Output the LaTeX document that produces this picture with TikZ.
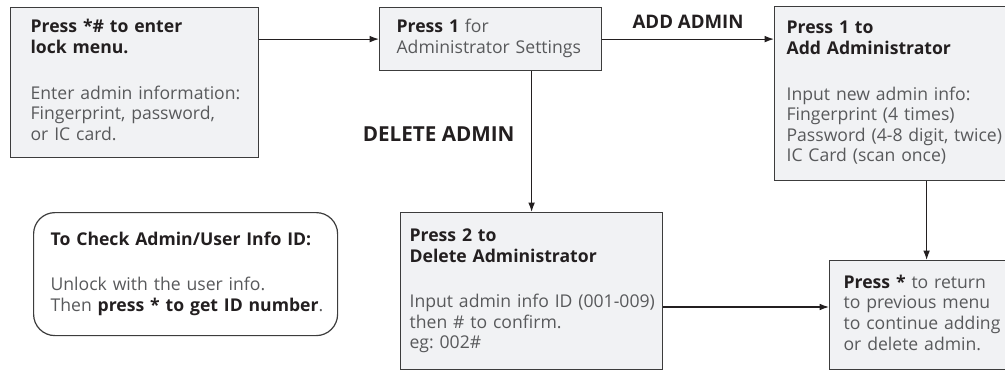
\documentclass[tikz,border=0pt]{standalone}
\usepackage{fontspec}
\setmainfont{Open Sans}
\usetikzlibrary{arrows.meta}
\definecolor{boxfill}{HTML}{F1F2F4}
\definecolor{boxline}{HTML}{3C3C3C}
\definecolor{txtgray}{HTML}{58595B}
\definecolor{txtdark}{HTML}{231F20}
\newcommand{\hd}[1]{{\bfseries\color{txtdark}#1}}
\newcommand{\lines}[1]{\begin{tabular}{@{}l@{}}#1\end{tabular}}
\frenchspacing

\begin{document}
\begin{tikzpicture}[x=0.75pt,y=-0.75pt,
  menubox/.style={draw=boxline,fill=boxfill,line width=0.9pt,anchor=north west,align=left,
    inner ysep=0pt,font=\fontsize{13.2}{15.4}\selectfont,text=txtgray},
  flow/.style={draw=txtdark,line width=0.9pt,-{Latex[length=7pt,width=5pt]}},
  lbl/.style={font=\fontsize{14}{16}\selectfont\bfseries,text=txtdark}]
  \useasboundingbox (0,0) rectangle (1005,371);
  % menu boxes
  \node[menubox,inner xsep=15pt,text width=156pt,minimum height=112.5pt] (lock) at (10,7)
    {\lines{\hd{Press *\# to enter}\\\hd{lock menu.}\\[19pt]Enter admin information:\\Fingerprint, password,\\or IC card.}};
  \node[menubox,inner xsep=12.75pt,text width=141pt,minimum height=47.25pt] (ctl) at (379,7)
    {\lines{\hd{Press 1} for\\Administrator Settings}};
  \node[menubox,inner xsep=9pt,text width=210pt,minimum height=130.5pt] (add) at (774,6)
    {\lines{\hd{Press 1 to}\\\hd{Add Administrator}\\[19pt]Input new admin info:\\Fingerprint (4 times)\\Password (4-8 digit, twice)\\IC Card (scan once)}};
  \node[menubox,inner xsep=6.75pt,text width=183pt,minimum height=117.75pt] (del) at (400,212)
    {\lines{\hd{Press 2 to}\\\hd{Delete Administrator}\\[19pt]Input admin info ID (001-009)\\then \# to confirm.\\eg: 002\#}};
  \node[menubox,inner xsep=10.5pt,text width=124.5pt,minimum height=81.75pt] (rtn) at (829,260)
    {\lines{\hd{Press *} to return\\to previous menu\\to continue adding\\or delete admin.}};
  \node[menubox,fill=white,rounded corners=16pt,inner xsep=12.75pt,text width=202.5pt,minimum height=92.25pt] (chk) at (33,212)
    {\lines{\hd{To Check Admin/User Info ID:}\\[19pt]Unlock with the user info.\\Then \hd{press * to get ID number}.}};
  % connectors
  \draw[flow] (lock.east |- ctl.west) -- (ctl.west);
  \draw[flow] (ctl.east) -- node[lbl,above=4pt] (lbladd) {ADD ADMIN} (ctl.east -| add.west);
  \draw[flow] (ctl.south -| del.north) -- node[lbl,font=\fontsize{15.5}{17}\selectfont\bfseries,left=9pt,pos=0.45] (lbldel) {DELETE ADMIN} (del.north);
  \draw[flow] (add.south -| rtn.north) -- (rtn.north);
  \coordinate (jn) at (700,307);
  \draw[flow] (del.east |- jn) -- (rtn.west |- jn);
\end{tikzpicture}
\end{document}
